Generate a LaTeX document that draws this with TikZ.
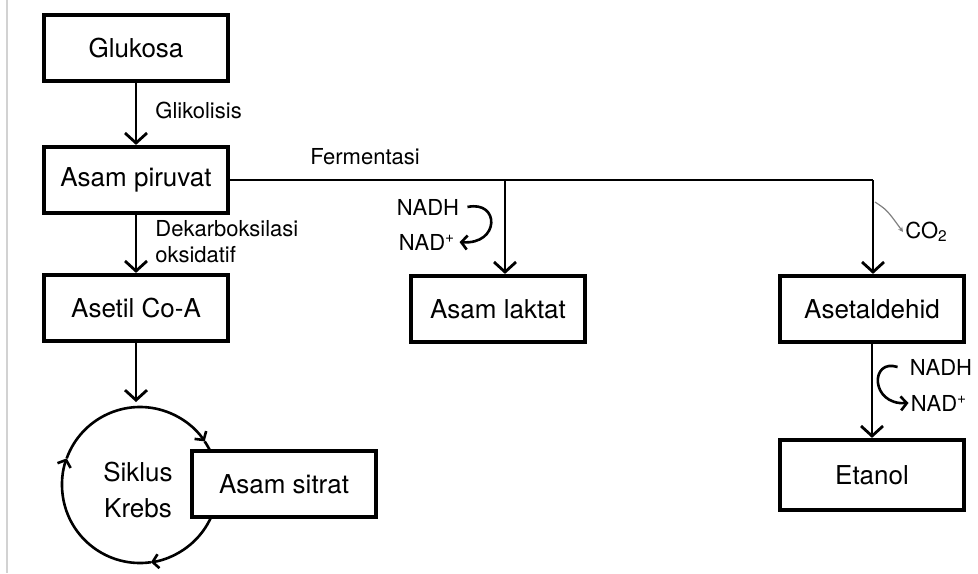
\documentclass[tikz,border=0pt]{standalone}
\usepackage{fontspec}
\setmainfont{TeX Gyre Heros}
\usetikzlibrary{arrows.meta,positioning}

\begin{document}
\begin{tikzpicture}[x=0.5pt,y=-0.5pt,
  box/.style={draw, line width=2.1pt, fill=white, minimum width=92pt, minimum height=33pt,
    inner sep=0pt, font=\fontsize{13}{15}\selectfont},
  lbl/.style={inner sep=1pt, font=\fontsize{11}{13}\selectfont},
  flow/.style={line width=1.4pt, -{Straight Barb[length=5pt,width=11pt]}},
  cyc/.style={line width=1.3pt, -{Straight Barb[length=3pt,width=7pt]}}]
\useasboundingbox (0,0) rectangle (978,573);
\draw[gray!35, line width=0.8pt] (7,0) -- (7,573);

% boxes
\node[box] (glukosa) at (136,48) {Glukosa};
\node[box] (piruvat) at (136,180) {Asam\ piruvat};
\node[box] (asetil) at (136,308) {Asetil Co-A};
\node[box, minimum width=87pt] (laktat) at (498,309) {Asam\ laktat};
\node[box] (asetaldehid) at (872,309) {Asetaldehid};
\node[box, minimum height=35pt] (etanol) at (872,475) {Etanol};

% main path
\draw[flow] (glukosa) -- (piruvat);
\node[lbl, anchor=west] (glikolisis) at (153,110) {Glikolisis};
\draw[flow] (piruvat) -- (asetil);
\node[lbl, anchor=west, align=left] (dekarb) at (153,242) {Dekarboksilasi\\oksidatif};
\coordinate (krebstop) at (136,402);
\draw[flow] (asetil) -- (krebstop);

% Krebs cycle
\coordinate (kc) at (140,485);
\draw[cyc] (kc) ++(-160:78) arc[start angle=-160, end angle=-34, radius=78];
\draw[cyc] (kc) ++(-34:78) arc[start angle=-34, end angle=82, radius=78];
\draw[cyc] (kc) ++(82:78) arc[start angle=82, end angle=200, radius=78];
\node[align=center, font=\fontsize{13}{18}\selectfont] (krebs) at (138,490) {Siklus\\Krebs};
\node[box] (sitrat) at (284,484) {Asam\ sitrat};

% fermentation
\coordinate (brL) at (505,180);
\coordinate (brA) at (873,180);
\draw[line width=1.4pt] (piruvat.east) -- (brA);
\node[lbl] (fermentasi) at (365,157) {Fermentasi};
\draw[flow] (brL) -- (brL |- laktat.north);
\draw[flow] (brA) -- (brA |- asetaldehid.north);

% lactic acid
\node[lbl] (nadhL) at (428,207) {NADH};
\node[lbl] (nadL) at (427,242) {NAD\textsuperscript{+}};
\draw[cyc] ([xshift=3pt]nadhL.east) .. controls (500,200) and (500,245) .. ([xshift=1pt]nadL.east);

% CO2
\coordinate (co2out) at (875,202);
\node[lbl, anchor=west] (co2) at (903,232) {CO\textsubscript{2}};
\draw[gray, line width=0.6pt, -{Stealth[length=2.5pt,width=2.5pt]}] (co2out) .. controls (887,210) .. (co2.west);

% ethanol
\draw[flow] (asetaldehid) -- (etanol);
\node[lbl] (nadhE) at (941,367) {NADH};
\node[lbl] (nadE) at (939,403) {NAD\textsuperscript{+}};
\draw[cyc] ([xshift=-5pt]nadhE.west) .. controls (870,358) and (870,405) .. (nadE.west);
\end{tikzpicture}
\end{document}
